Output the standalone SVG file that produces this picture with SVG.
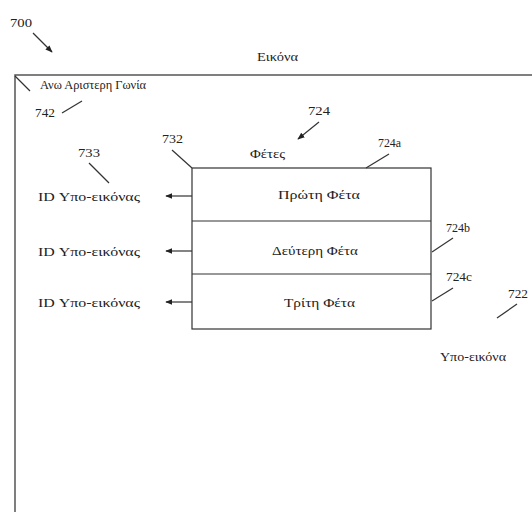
<svg xmlns="http://www.w3.org/2000/svg" width="532" height="512" viewBox="0 0 532 512">
<defs>
<style>
text{font-family:"Liberation Serif","Times New Roman",serif;fill:#222;font-size:13px}
.sm{font-size:12px}
.ln{stroke:#333;stroke-width:1.2;fill:none}
.fr{stroke:#555;stroke-width:1.5;fill:none}
</style>
<marker id="ah" viewBox="0 0 10 10" refX="9" refY="5" markerWidth="6" markerHeight="6" orient="auto-start-reverse">
<path d="M0,1 L10,5 L0,9 z" fill="#222"/>
</marker>
</defs>
<rect width="532" height="512" fill="#fff"/>
<g id="frame">
<path class="fr" d="M15,512 L15,75 L532,75"/>
<text x="257" y="61" textLength="41" lengthAdjust="spacingAndGlyphs">Εικόνα</text>
</g>
<g id="label700">
<text x="10" y="27" class="sm" textLength="22" lengthAdjust="spacingAndGlyphs">700</text>
</g>
<g id="corner">
<text x="40" y="89" textLength="106" lengthAdjust="spacingAndGlyphs">Ανω Αριστερη Γωνία</text>
<text x="35" y="117" class="sm" textLength="20" lengthAdjust="spacingAndGlyphs">742</text>
</g>
<g id="slices">
<rect x="192" y="168" width="239" height="161" class="ln"/>
<line x1="192" y1="221" x2="431" y2="221" class="ln"/>
<line x1="192" y1="274" x2="431" y2="274" class="ln"/>
<text x="250" y="158" class="sm" textLength="35" lengthAdjust="spacingAndGlyphs">Φέτες</text>
</g>
<g id="slice1"><text x="278" y="199" textLength="82" lengthAdjust="spacingAndGlyphs">Πρώτη Φέτα</text></g>
<g id="slice2"><text x="272" y="255" textLength="86" lengthAdjust="spacingAndGlyphs">Δεύτερη Φέτα</text></g>
<g id="slice3"><text x="284" y="307" textLength="71" lengthAdjust="spacingAndGlyphs">Τρίτη Φέτα</text></g>
<g id="id1"><text x="38" y="201" font-size="14" textLength="102" lengthAdjust="spacingAndGlyphs">ID Υπο-εικόνας</text></g>
<g id="id2"><text x="38" y="256" font-size="14" textLength="102" lengthAdjust="spacingAndGlyphs">ID Υπο-εικόνας</text></g>
<g id="id3"><text x="38" y="307" font-size="14" textLength="102" lengthAdjust="spacingAndGlyphs">ID Υπο-εικόνας</text></g>
<g id="subimage"><text x="440" y="361" textLength="66" lengthAdjust="spacingAndGlyphs">Υπο-εικόνα</text></g>
<g id="refs">
<text x="308" y="115" class="sm" textLength="22" lengthAdjust="spacingAndGlyphs">724</text>
<text x="378" y="147" class="sm" textLength="23" lengthAdjust="spacingAndGlyphs">724a</text>
<text x="446" y="232" class="sm" textLength="24" lengthAdjust="spacingAndGlyphs">724b</text>
<text x="446" y="281" class="sm" textLength="26" lengthAdjust="spacingAndGlyphs">724c</text>
<text x="508" y="298" class="sm" textLength="20" lengthAdjust="spacingAndGlyphs">722</text>
<text x="162" y="143" class="sm" textLength="21" lengthAdjust="spacingAndGlyphs">732</text>
<text x="78" y="157" class="sm" textLength="22" lengthAdjust="spacingAndGlyphs">733</text>
</g>
<g id="connectors">
<line x1="33" y1="33" x2="52" y2="52" class="ln" marker-end="url(#ah)"/>
<line x1="15" y1="76" x2="30" y2="91" class="ln"/>
<line x1="62" y1="113" x2="82" y2="101" class="ln"/>
<line x1="319" y1="122" x2="298" y2="139" class="ln" marker-end="url(#ah)"/>
<line x1="389" y1="154" x2="366" y2="168" class="ln"/>
<line x1="453" y1="238" x2="432" y2="252" class="ln"/>
<line x1="453" y1="288" x2="432" y2="301" class="ln"/>
<line x1="517" y1="304" x2="497" y2="318" class="ln"/>
<line x1="172" y1="150" x2="192" y2="168" class="ln"/>
<line x1="89" y1="163" x2="109" y2="183" class="ln"/>
<line x1="192" y1="196" x2="166" y2="196" class="ln" marker-end="url(#ah)"/>
<line x1="192" y1="251" x2="166" y2="251" class="ln" marker-end="url(#ah)"/>
<line x1="192" y1="302" x2="166" y2="302" class="ln" marker-end="url(#ah)"/>
</g>
</svg>
